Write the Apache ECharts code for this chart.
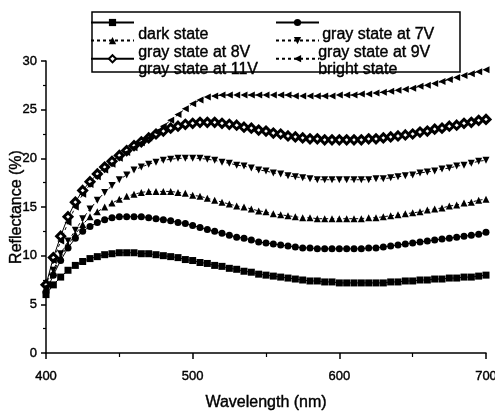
<!DOCTYPE html>
<html>
<head>
<meta charset="utf-8">
<script src="https://cdn.jsdelivr.net/npm/echarts@6.0.0/dist/echarts.min.js"></script>
<style>
  html, body { margin: 0; padding: 0; background: #fff; }
  #chart { width: 495px; height: 413px; }
</style>
</head>
<body>
<div id="chart"></div>
<script>
// wavelength (nm)
const wavelengths = [
  400, 405, 410, 415, 420, 425, 430, 435, 440, 445, 450, 455, 460, 465, 470, 475, 480, 485, 490, 495,
  500, 505, 510, 515, 520, 525, 530, 535, 540, 545, 550, 555, 560, 565, 570, 575, 580, 585, 590, 595,
  600, 605, 610, 615, 620, 625, 630, 635, 640, 645, 650, 655, 660, 665, 670, 675, 680, 685, 690, 695, 700
]

// reflectance (%)
const darkState = [
  6.0, 7.0, 7.8, 8.5, 9.0, 9.4, 9.7, 9.9, 10.1, 10.2, 10.3, 10.3, 10.3, 10.2, 10.2, 10.1, 10.0, 9.9, 9.8, 9.6,
  9.5, 9.3, 9.2, 9.0, 8.9, 8.7, 8.6, 8.4, 8.3, 8.1, 8.0, 7.9, 7.8, 7.7, 7.6, 7.5, 7.4, 7.4, 7.3, 7.3,
  7.2, 7.2, 7.2, 7.2, 7.2, 7.2, 7.2, 7.3, 7.3, 7.4, 7.4, 7.5, 7.5, 7.6, 7.6, 7.7, 7.7, 7.8, 7.8, 7.9, 8.0
]
const gray7V = [
  6.3, 8.0, 9.5, 10.8, 11.8, 12.5, 13.0, 13.4, 13.7, 13.9, 14.0, 14.0, 14.0, 14.0, 13.9, 13.8, 13.7, 13.6, 13.4, 13.3,
  13.1, 12.9, 12.7, 12.5, 12.3, 12.1, 11.9, 11.8, 11.6, 11.4, 11.3, 11.2, 11.1, 11.0, 10.9, 10.8, 10.8, 10.7, 10.7, 10.7,
  10.7, 10.7, 10.7, 10.7, 10.8, 10.8, 10.9, 11.0, 11.1, 11.2, 11.3, 11.4, 11.5, 11.6, 11.7, 11.8, 11.9, 12.0, 12.1, 12.2, 12.4
]
const gray8V = [
  6.5, 8.3, 9.8, 11.1, 12.2, 13.2, 14.0, 14.5, 15.0, 15.4, 15.8, 16.1, 16.3, 16.5, 16.6, 16.6, 16.6, 16.6, 16.5, 16.4,
  16.2, 16.1, 15.9, 15.7, 15.5, 15.3, 15.1, 15.0, 14.8, 14.6, 14.5, 14.3, 14.2, 14.1, 14.0, 13.9, 13.9, 13.8, 13.8, 13.8,
  13.8, 13.8, 13.8, 13.8, 13.9, 13.9, 14.0, 14.1, 14.2, 14.3, 14.4, 14.5, 14.7, 14.8, 14.9, 15.1, 15.2, 15.4, 15.5, 15.7, 15.8
]
const gray9V = [
  6.5, 8.5, 10.2, 11.5, 12.6, 13.8, 14.8, 15.7, 16.5, 17.2, 17.8, 18.3, 18.8, 19.1, 19.4, 19.6, 19.8, 19.9, 20.0, 20.0,
  20.0, 20.0, 19.9, 19.8, 19.6, 19.5, 19.3, 19.2, 19.0, 18.8, 18.7, 18.5, 18.4, 18.2, 18.1, 18.0, 17.9, 17.8, 17.8, 17.8,
  17.8, 17.8, 17.8, 17.8, 17.8, 17.9, 17.9, 18.0, 18.1, 18.2, 18.3, 18.5, 18.6, 18.7, 18.9, 19.0, 19.2, 19.3, 19.5, 19.7, 19.8
]
const gray11V = [
  7.0, 9.8, 12.0, 14.0, 15.5, 16.7, 17.6, 18.4, 19.1, 19.7, 20.3, 20.8, 21.3, 21.7, 22.1, 22.5, 22.8, 23.1, 23.3, 23.5,
  23.6, 23.7, 23.7, 23.7, 23.6, 23.5, 23.4, 23.2, 23.1, 22.9, 22.8, 22.6, 22.5, 22.3, 22.2, 22.1, 22.0, 22.0, 21.9, 21.9,
  21.9, 21.9, 21.9, 21.9, 22.0, 22.0, 22.1, 22.2, 22.3, 22.4, 22.5, 22.7, 22.8, 23.0, 23.1, 23.3, 23.4, 23.6, 23.7, 23.9, 24.0
]
const brightState = [
  6.8, 9.5, 11.5, 13.4, 15.0, 16.3, 17.3, 18.1, 18.8, 19.4, 20.0, 20.6, 21.1, 21.6, 22.1, 22.7, 23.3, 23.9, 24.5, 25.1,
  25.6, 26.0, 26.3, 26.4, 26.5, 26.5, 26.5, 26.5, 26.5, 26.5, 26.5, 26.5, 26.5, 26.5, 26.4, 26.4, 26.4, 26.4, 26.4, 26.4,
  26.5, 26.5, 26.5, 26.6, 26.6, 26.7, 26.8, 26.9, 27.0, 27.1, 27.2, 27.4, 27.5, 27.7, 27.9, 28.1, 28.3, 28.5, 28.7, 28.9, 29.1
]

const xTicks = [400, 500, 600, 700]
const yTicks = [0, 5, 10, 15, 20, 25, 30]

const seriesNames = ['dark state', 'gray state at 7V', 'gray state at 8V', 'gray state at 9V', 'gray state at 11V', 'bright state']

const font = 'Liberation Sans, Arial, Helvetica, sans-serif'
// the scan makes every text look heavy, a thin outline imitates that
const inkText = { color: '#000', textBorderColor: '#000', textBorderWidth: 0.4 }

const toPairs = (vals) => vals.map((v, i) => [wavelengths[i], v])

const solid = { color: '#000', width: 1 }
const dashed = { color: '#000', width: 1, type: [3, 3] }

const makeSeries = (name, vals, symbol, opts) => {
  return Object.assign({
    name: name,
    type: 'line',
    data: toPairs(vals),
    symbol: symbol,
    symbolSize: 7,
    showSymbol: true,
    lineStyle: solid,
    itemStyle: { color: '#000' },
    emphasis: { disabled: true },
    animation: false,
    z: 3
  }, opts || {})
}

const chart = echarts.init(document.getElementById('chart'), null, { renderer: 'canvas' })

const legendBase = {
  orient: 'vertical',
  itemWidth: 43,
  itemHeight: 9,
  itemGap: 10,
  selectedMode: false,
  formatter: () => '',
  textStyle: { fontSize: 1 },
  padding: 0
}

// legend labels are drawn as text, shifted one row down like in the scanned figure
const labelText = (text, x, y) => ({
  type: 'text',
  left: x,
  top: y,
  z: 10,
  style: { text: text, font: '16px ' + font, fill: '#000', stroke: '#000', lineWidth: 0.4 }
})

const option = {
  backgroundColor: '#fff',
  animation: false,
  grid: { left: 46, right: 9, top: 61, bottom: 60, outerBoundsMode: 'none', containLabel: false },
  legend: [
    Object.assign({}, legendBase, { left: 90, top: 18, data: ['dark state', 'gray state at 8V', 'gray state at 11V'] }),
    Object.assign({}, legendBase, { left: 275, top: 18, data: ['gray state at 7V', 'gray state at 9V', 'bright state'] })
  ],
  graphic: [
    {
      type: 'rect',
      shape: { x: 92, y: 12, width: 368, height: 60 },
      style: { fill: 'none', stroke: '#000', lineWidth: 1.5 },
      z: 5
    },
    labelText('dark state', 138, 26),
    labelText('gray state at 8V', 138, 44),
    labelText('gray state at 11V', 138, 61),
    labelText('gray state at 7V', 322, 26),
    labelText('gray state at 9V', 318, 44),
    labelText('bright state', 318, 61)
  ],
  xAxis: {
    type: 'value',
    min: xTicks[0],
    max: xTicks[xTicks.length - 1],
    interval: 100,
    name: 'Wavelength (nm)',
    nameLocation: 'middle',
    nameGap: 42,
    nameMoveOverlap: false,
    nameTextStyle: Object.assign({ fontFamily: font, fontSize: 16 }, inkText),
    axisLine: { lineStyle: { color: '#000', width: 1.5 } },
    axisTick: { length: 6, lineStyle: { color: '#000', width: 1.5 } },
    minorTick: { show: true, splitNumber: 2, length: 4, lineStyle: { color: '#000', width: 1.2 } },
    axisLabel: Object.assign({ fontFamily: font, fontSize: 13, margin: 17 }, inkText),
    splitLine: { show: false }
  },
  yAxis: {
    type: 'value',
    min: yTicks[0],
    max: yTicks[yTicks.length - 1],
    interval: 5,
    name: 'Reflectance (%)',
    nameLocation: 'middle',
    nameGap: 21,
    nameMoveOverlap: false,
    nameTextStyle: Object.assign({ fontFamily: font, fontSize: 16 }, inkText),
    axisLine: { show: true, lineStyle: { color: '#000', width: 1.5 } },
    axisTick: { show: true, length: 5, lineStyle: { color: '#000', width: 1.5 } },
    minorTick: { show: true, splitNumber: 2, length: 3, lineStyle: { color: '#000', width: 1.2 } },
    axisLabel: Object.assign({ fontFamily: font, fontSize: 13, margin: 9 }, inkText),
    splitLine: { show: false }
  },
  series: [
    makeSeries(seriesNames[0], darkState, 'rect'),
    makeSeries(seriesNames[1], gray7V, 'circle'),
    makeSeries(seriesNames[2], gray8V, 'triangle', { lineStyle: dashed }),
    makeSeries(seriesNames[3], gray9V, 'triangle', { symbolRotate: 180, lineStyle: dashed }),
    makeSeries(seriesNames[4], gray11V, 'diamond', { symbolSize: 8, itemStyle: { color: '#fff', borderColor: '#000', borderWidth: 3 } }),
    makeSeries(seriesNames[5], brightState, 'triangle', { symbolRotate: 90, lineStyle: dashed })
  ]
}

chart.setOption(option)
</script>
</body>
</html>
